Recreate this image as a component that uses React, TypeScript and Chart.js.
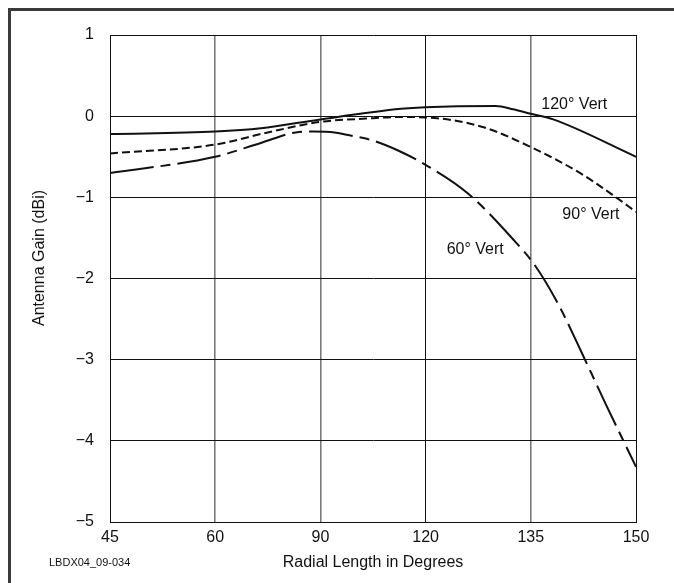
import React, { useEffect, useRef } from "react";
import { Chart, registerables } from "chart.js";

Chart.register(...registerables);

// Category ticks of the (equally spaced) horizontal axis, in degrees
const xTickLabels = ["45", "60", "90", "120", "135", "150"];
const xTickDegrees = [45, 60, 90, 120, 135, 150];
const yTicks = [1, 0, -1, -2, -3, -4, -5];

// 120° Vert
const vert120Deg = [45, 60, 73, 90, 113, 120, 130, 132.5, 135, 138.2, 150];
const vert120Gain = [-0.22, -0.19, -0.15, -0.04, 0.09, 0.11, 0.125, 0.085, 0.03, -0.04, -0.5];

// 90° Vert
const vert90Deg = [45, 60, 75, 90, 103, 113, 120, 128, 135, 142, 147, 150];
const vert90Gain = [-0.46, -0.35, -0.2, -0.07, -0.03, -0.01, -0.015, -0.13, -0.38, -0.7, -0.99, -1.18];

// 60° Vert
const vert60Deg = [45, 60, 73, 83, 88, 94, 97.5, 105, 112, 120, 126, 132.5, 135.6, 139, 142.4, 145.7, 150];
const vert60Gain = [-0.7, -0.5, -0.33, -0.2, -0.19, -0.2, -0.23, -0.3, -0.42, -0.6, -0.95, -1.52, -1.84, -2.33, -2.94, -3.55, -4.32];

const seriesLabels = ["120° Vert", "90° Vert", "60° Vert"];
const xTitle = "Radial Length in Degrees";
const yTitle = "Antenna Gain (dBi)";
const figureId = "LBDX04_09-034";

// map degrees to position on the piecewise axis (index of tick)
function degToPos(d: number): number {
  for (let i = 0; i < xTickDegrees.length - 1; i++) {
    const a = xTickDegrees[i], b = xTickDegrees[i + 1];
    if (d <= b || i === xTickDegrees.length - 2) {
      return i + (d - a) / (b - a);
    }
  }
  return 0;
}

function toPoints(degs: number[], vals: number[]) {
  return degs.map((d, i) => ({ x: degToPos(d), y: vals[i] }));
}

const FONT = "'Liberation Sans', Arial, sans-serif";

const textPlugin = {
  id: "textPlugin",
  afterDraw(chart: any) {
    const { ctx, chartArea } = chart;
    const xs = chart.scales.x;
    const ys = chart.scales.y;
    ctx.save();
    ctx.fillStyle = "#111";
    ctx.textBaseline = "middle";
    ctx.font = `16px ${FONT}`;
    // series labels
    ctx.textAlign = "left";
    ctx.fillText(seriesLabels[0], xs.getPixelForValue(degToPos(136.5)), ys.getPixelForValue(0.14));
    ctx.fillText(seriesLabels[1], xs.getPixelForValue(degToPos(139.5)), ys.getPixelForValue(-1.21));
    ctx.fillText(seriesLabels[2], xs.getPixelForValue(degToPos(123)), ys.getPixelForValue(-1.64));
    // axis titles
    ctx.textAlign = "center";
    ctx.fillText(xTitle, (chartArea.left + chartArea.right) / 2, 563);
    ctx.save();
    ctx.translate(40, 258);
    ctx.rotate(-Math.PI / 2);
    ctx.fillText(yTitle, 0, 0);
    ctx.restore();
    // figure id
    ctx.textAlign = "left";
    ctx.font = `11px ${FONT}`;
    ctx.fillText(figureId, 49, 563);
    ctx.restore();
  },
};

export default function App() {
  const ref = useRef<HTMLCanvasElement>(null);
  useEffect(() => {
    if (!ref.current) return;
    const line = (data: any, dash: number[]) => ({
      data,
      borderColor: "#111",
      borderWidth: 2,
      borderDash: dash,
      pointRadius: 0,
      fill: false,
      tension: 0.4,
      cubicInterpolationMode: "monotone",
    });
    const chart = new Chart(ref.current, {
      type: "line",
      data: {
        datasets: [
          { label: seriesLabels[0], ...line(toPoints(vert120Deg, vert120Gain), []) },
          { label: seriesLabels[1], ...line(toPoints(vert90Deg, vert90Gain), [8, 4]) },
          { label: seriesLabels[2], ...line(toPoints(vert60Deg, vert60Gain), [44, 7, 10, 7]) },
        ] as any,
      },
      options: {
        animation: false,
        responsive: false,
        devicePixelRatio: 1,
        layout: { padding: { left: 0, top: 35, right: 38, bottom: 0 } },
        plugins: { legend: { display: false }, tooltip: { enabled: false } },
        scales: {
          x: {
            type: "linear",
            min: 0,
            max: xTickLabels.length - 1,
            afterFit: (s: any) => { s.height = 61; },
            afterBuildTicks: (s: any) => { s.ticks = xTickLabels.map((_, i) => ({ value: i })); },
            ticks: {
              callback: (v: any) => xTickLabels[Math.round(v)] ?? "",
              color: "#111",
              font: { family: FONT, size: 16 },
              padding: 6,
              maxRotation: 0,
              autoSkip: false,
            },
            grid: {
              drawTicks: false,
              color: (c: any) => (c.tick && (c.tick.value === 3 || c.tick.value === 0 || c.tick.value === 5) ? "#111" : "#7a7a7a"),
              lineWidth: (c: any) => (c.tick && (c.tick.value === 3 || c.tick.value === 0 || c.tick.value === 5) ? 1 : 1.6),
            },
            border: { color: "#111", width: 1 },
          },
          y: {
            type: "linear",
            min: -5,
            max: 1,
            afterFit: (s: any) => { s.width = 110; },
            afterBuildTicks: (s: any) => { s.ticks = yTicks.map((v) => ({ value: v })); },
            ticks: {
              callback: (v: any) => (v < 0 ? "\u2212" + Math.abs(v) : String(v)),
              color: "#111",
              font: { family: FONT, size: 16 },
              padding: 16,
            },
            grid: { drawTicks: false, color: "#111", lineWidth: 1 },
            border: { color: "#111", width: 1 },
          },
        },
      },
      plugins: [textPlugin],
    } as any);
    return () => chart.destroy();
  }, []);
  return (
    <div style={{ position: "absolute", left: 0, top: 0, width: 674, height: 583, overflow: "hidden", background: "#fff" }}>
      <canvas ref={ref} width={674} height={583} style={{ position: "absolute", left: 0, top: 0, width: 674, height: 583 }} />
      <div style={{ position: "absolute", left: 8, top: 8, width: 700, height: 700, borderTop: "3px solid #3a3a3a", borderLeft: "3px solid #3a3a3a", boxSizing: "border-box", pointerEvents: "none" }} />
    </div>
  );
}
